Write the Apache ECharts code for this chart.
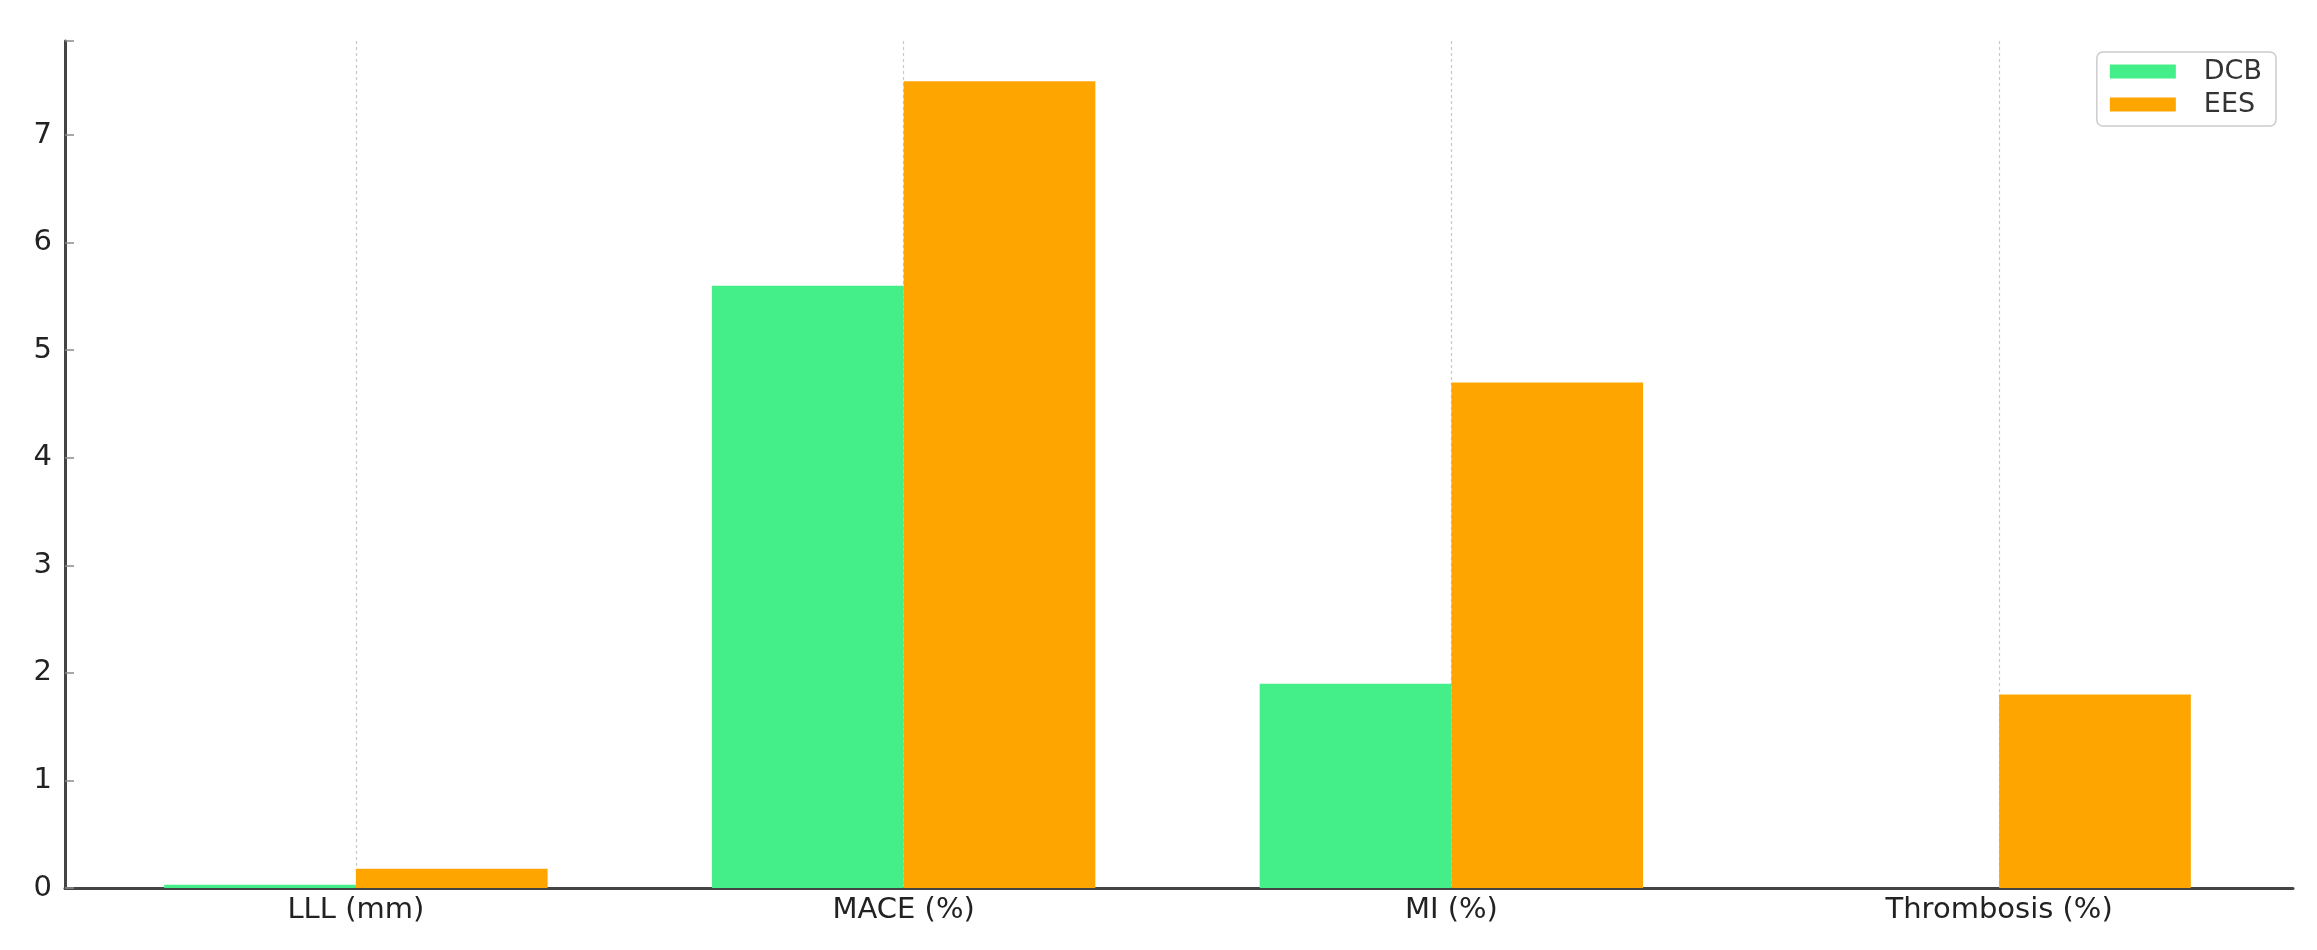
<!DOCTYPE html>
<html>
<head>
<meta charset="utf-8">
<style>
  html, body { margin: 0; padding: 0; background: #ffffff; }
  #chart { width: 2317px; height: 950px; }
</style>
<script src="https://cdn.jsdelivr.net/npm/echarts@6/dist/echarts.min.js"></script>
</head>
<body>
<div id="chart"></div>
<script>
const categories = ['LLL (mm)', 'MACE (%)', 'MI (%)', 'Thrombosis (%)'];
const dcbValues = [0.03, 5.6, 1.9, 0];
const eesValues = [0.18, 7.5, 4.7, 1.8];
const seriesNames = ['DCB', 'EES'];
const yTicks = [0, 1, 2, 3, 4, 5, 6, 7];

const FONT = 'DejaVu Sans';
const chart = echarts.init(document.getElementById('chart'), null, { renderer: 'canvas' });

const option = {
  backgroundColor: '#ffffff',
  animation: false,
  grid: [
    { left: 82, right: 44, top: 41, bottom: 62, containLabel: false },
    { left: 65, right: 24, top: 41, bottom: 62, containLabel: false }
  ],
  legend: {
    orient: 'vertical',
    right: 41,
    top: 52,
    data: seriesNames,
    icon: 'rect',
    itemWidth: 66,
    itemHeight: 14,
    itemGap: 6,
    padding: [6, 14, 8, 13],
    borderColor: '#cccccc',
    borderWidth: 1.5,
    borderRadius: 6,
    backgroundColor: '#ffffff',
    textStyle: { fontFamily: FONT, fontSize: 27, color: '#333333', padding: [0, 0, 0, 23] }
  },
  xAxis: [
    {
      type: 'category',
      gridIndex: 0,
      data: categories,
      boundaryGap: true,
      axisLine: { show: false },
      axisTick: { show: false },
      axisLabel: { fontFamily: FONT, fontSize: 29, color: '#222222', margin: 8 },
      splitLine: { show: true, alignWithLabel: true, lineStyle: { color: '#c8c8c8', type: [3, 3], width: 1.2 } }
    },
    {
      type: 'value',
      gridIndex: 1,
      min: 0,
      max: 1,
      axisLine: { show: true, onZero: false, lineStyle: { color: '#444444', width: 3 } },
      axisTick: { show: false },
      axisLabel: { show: false },
      splitLine: { show: false }
    }
  ],
  yAxis: [
    {
      type: 'value',
      gridIndex: 0,
      min: 0,
      max: 7.875,
      interval: 1,
      axisLine: { show: false },
      axisTick: { show: false },
      axisLabel: { show: false },
      splitLine: { show: false }
    },
    {
      type: 'value',
      gridIndex: 1,
      min: 0,
      max: 7.875,
      interval: 1,
      axisLine: { show: true, lineStyle: { color: '#444444', width: 3 } },
      axisTick: { show: true, inside: true, length: 9, lineStyle: { color: '#8a8a8a', width: 1.5 } },
      axisLabel: {
        fontFamily: FONT, fontSize: 29, color: '#222222', margin: 13,
        formatter: function (v) { return yTicks.indexOf(v) >= 0 ? String(v) : ''; }
      },
      splitLine: { show: false }
    }
  ],
  series: [
    {
      name: seriesNames[0],
      type: 'bar',
      xAxisIndex: 0,
      yAxisIndex: 0,
      data: dcbValues,
      barWidth: '35%',
      barGap: '0%',
      itemStyle: { color: '#44ef8a' }
    },
    {
      name: seriesNames[1],
      type: 'bar',
      xAxisIndex: 0,
      yAxisIndex: 0,
      data: eesValues,
      barWidth: '35%',
      barGap: '0%',
      itemStyle: { color: '#ffa500' }
    }
  ]
};
chart.setOption(option);
</script>
</body>
</html>
